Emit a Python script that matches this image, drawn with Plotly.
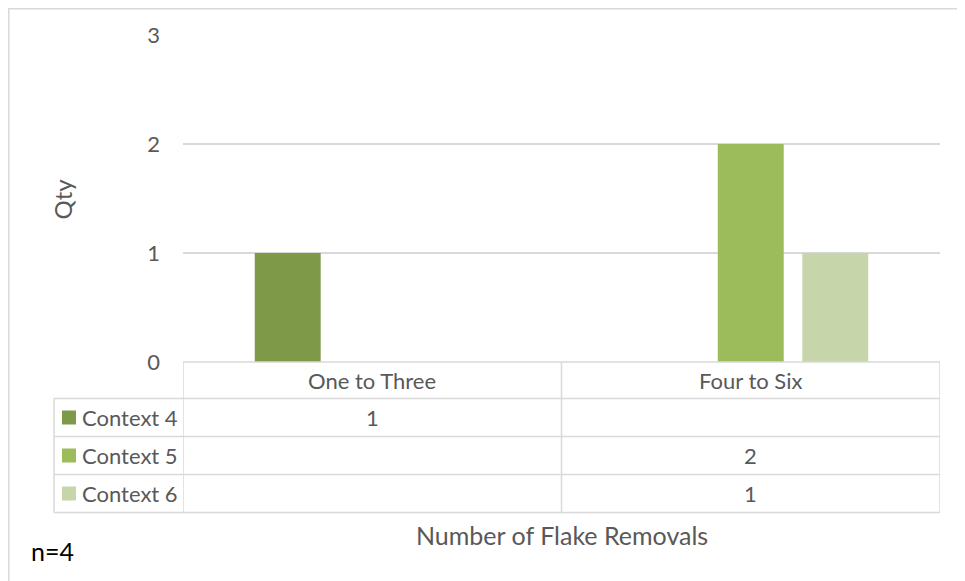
import plotly.graph_objects as go

# ---- data ----
categories = ["One to Three", "Four to Six"]
series_names = ["Context 4", "Context 5", "Context 6"]
context4 = [1, None]
context5 = [None, 2]
context6 = [None, 1]
series_values = [context4, context5, context6]
colors = ["#7E9A49", "#9CBB5A", "#C7D5AB"]
y_ticks = [0, 1, 2, 3]
x_title = "Number of Flake Removals"
y_title = "Qty"
note = "n=4"

# ---- layout geometry (window pixels; page body has an 8px margin) ----
OFF = 8
W, H = 965 - OFF, 581 - OFF
L = 183 - OFF
T = 35 - OFF
R = 965 - 940
Y0 = 362 - OFF
B = H - Y0
PW = W - L - R
PH = H - T - B


def px(xp):
    return (xp - OFF - L) / PW


def py(yp):
    return (Y0 - (yp - OFF)) / PH


GRID = "#D9D9D9"
TXT = "#595959"
FONT = "Lato"
TS = 22  # table / tick font size

fig = go.Figure()
for name, vals, col in zip(series_names, series_values, colors):
    fig.add_trace(go.Bar(x=categories, y=vals, name=name, marker_color=col,
                         marker_line_width=0, showlegend=False))

shapes = []
ann = []

# outer frame
shapes.append(dict(type="rect", xref="paper", yref="paper",
                   x0=px(8.8), x1=px(990), y0=py(8.8), y1=py(600),
                   line=dict(color=GRID, width=1.5), fillcolor="rgba(0,0,0,0)", layer="below"))

# data table
row_edges = [362, 398.5, 436.5, 474.5, 512.5]
legend_left = 54
right_edge = px(940)
shapes.append(dict(type="line", xref="paper", yref="paper", x0=0, x1=right_edge,
                   y0=py(row_edges[0]), y1=py(row_edges[0]), line=dict(color=GRID, width=1.5)))
for ye in row_edges[1:]:
    shapes.append(dict(type="line", xref="paper", yref="paper", x0=px(legend_left), x1=right_edge,
                       y0=py(ye), y1=py(ye), line=dict(color=GRID, width=1.5)))
shapes.append(dict(type="line", xref="paper", yref="paper", x0=px(legend_left), x1=px(legend_left),
                   y0=py(row_edges[1]), y1=py(row_edges[-1]), line=dict(color=GRID, width=1.5)))
for i in range(len(categories) + 1):
    shapes.append(dict(type="line", xref="x", yref="paper", x0=i - 0.5, x1=i - 0.5,
                       y0=py(row_edges[0]), y1=py(row_edges[-1]), line=dict(color=GRID, width=1.5)))

# header text
hy = (row_edges[0] + row_edges[1]) / 2
for i, c in enumerate(categories):
    ann.append(dict(x=i, y=py(hy), xref="x", yref="paper", text=c, showarrow=False,
                    xanchor="center", yanchor="middle", font=dict(size=TS, color=TXT, family=FONT)))

# rows
for r, (name, vals, col) in enumerate(zip(series_names, series_values, colors)):
    yc = (row_edges[r + 1] + row_edges[r + 2]) / 2
    shapes.append(dict(type="rect", xref="paper", yref="paper", x0=px(62), x1=px(76),
                       y0=py(yc - 7), y1=py(yc + 7), fillcolor=col, line=dict(width=0)))
    ann.append(dict(x=px(80), y=py(yc), xref="paper", yref="paper", text=name, showarrow=False,
                    xanchor="left", yanchor="middle", font=dict(size=TS, color=TXT, family=FONT)))
    for i, v in enumerate(vals):
        if v is not None:
            ann.append(dict(x=i, y=py(yc), xref="x", yref="paper", text=str(v), showarrow=False,
                            xanchor="center", yanchor="middle", font=dict(size=TS, color=TXT, family=FONT)))

# titles
ann.append(dict(x=px(562), y=py(535), xref="paper", yref="paper", text=x_title, showarrow=False,
                xanchor="center", yanchor="middle", font=dict(size=25, color=TXT, family=FONT)))
ann.append(dict(x=px(62), y=0.5, xref="paper", yref="paper", text=y_title, showarrow=False,
                textangle=-90, xanchor="center", yanchor="middle", font=dict(size=24, color=TXT, family=FONT)))
ann.append(dict(x=px(29), y=py(551), xref="paper", yref="paper", text=note, showarrow=False,
                xanchor="left", yanchor="middle", font=dict(size=25, color="#000000", family=FONT)))

fig.update_layout(
    width=W, height=H,
    margin=dict(l=L, r=R, t=T, b=B, pad=0),
    paper_bgcolor="white", plot_bgcolor="white",
    barmode="group", bargap=0.33, bargroupgap=0.22,
    font=dict(family=FONT, color=TXT, size=TS),
    shapes=shapes, annotations=ann,
    xaxis=dict(type="category", range=[-0.5, len(categories) - 0.5], showticklabels=False,
               showgrid=False, zeroline=False, showline=False, ticks=""),
    yaxis=dict(range=[0, 3], tickvals=y_ticks, showgrid=True, gridcolor=GRID, gridwidth=1.5,
               zeroline=False, showline=False, ticks="", ticklabelstandoff=22,
               tickfont=dict(size=TS, color=TXT, family=FONT)),
)

fig.write_html("out.html")
